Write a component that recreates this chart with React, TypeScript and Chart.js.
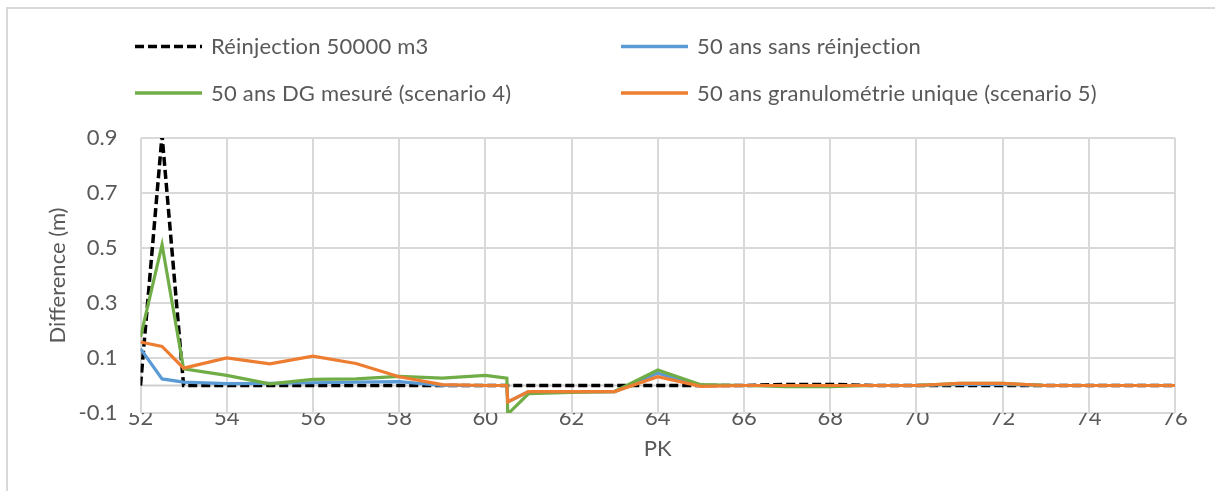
import React, { useEffect, useRef } from 'react';
import { Chart, registerables } from 'chart.js';

Chart.register(...registerables);

// ---- Data ----
const pk = [52, 52.5, 53, 54, 55, 56, 57, 58, 59, 60, 60.5, 60.52, 61, 62, 63, 64, 65, 66, 67, 68, 69, 70, 71, 72, 73, 74, 75, 76];
const reinjection = [0, 0.91, 0, 0, 0, 0, 0, 0, 0, 0, 0, 0, 0, 0, 0, 0, 0, 0, 0.004, 0.004, 0, 0, 0, 0, 0, 0, 0, 0];
const sansReinjection = [0.134, 0.024, 0.012, 0.007, 0.008, 0.01, 0.012, 0.014, 0, 0, 0, -0.06, -0.022, -0.022, -0.022, 0.045, 0, 0, 0, 0, 0, 0, 0.004, 0.004, 0, 0, 0, 0];
const dgMesure = [0.176, 0.512, 0.061, 0.037, 0.006, 0.022, 0.024, 0.033, 0.027, 0.037, 0.027, -0.104, -0.03, -0.025, -0.022, 0.056, 0.003, 0, -0.004, -0.004, 0, 0, 0.008, 0.008, 0, 0, 0, 0];
const granuloUnique = [0.158, 0.142, 0.063, 0.1, 0.079, 0.107, 0.08, 0.032, 0.003, 0, 0, -0.06, -0.022, -0.022, -0.022, 0.032, -0.003, 0, 0, 0, 0, 0, 0.008, 0.008, 0, 0, 0, 0];

const seriesLabels = [
  'Réinjection 50000 m3',
  '50 ans sans réinjection',
  '50 ans DG mesuré (scenario 4)',
  '50 ans granulométrie unique (scenario 5)',
];
const seriesColors = ['#000000', '#5B9BD5', '#70AD47', '#ED7D31'];

const xTicks = [52, 54, 56, 58, 60, 62, 64, 66, 68, 70, 72, 74, 76];
const yTicks = [-0.1, 0.1, 0.3, 0.5, 0.7, 0.9];

const FONT = 'Lato';
const FS = 22;
const TEXT = '#595959';
const GRID = '#d9d9d9';

const toPoints = (ys: number[]) => pk.map((x, i) => ({ x, y: ys[i] }));

const framePlugin = {
  id: 'frame',
  beforeDraw(chart: any) {
    const { ctx, width, height } = chart;
    ctx.save();
    ctx.strokeStyle = GRID;
    ctx.lineWidth = 2;
    ctx.beginPath();
    ctx.moveTo(7, height);
    ctx.lineTo(7, 8);
    ctx.lineTo(width, 8);
    ctx.stroke();
    ctx.restore();
  },
  beforeDatasetsDraw(chart: any) {
    const { ctx, chartArea, scales } = chart;
    const y0 = scales.y.getPixelForValue(0);
    ctx.save();
    ctx.strokeStyle = '#cfcfcf';
    ctx.lineWidth = 2;
    ctx.beginPath();
    ctx.moveTo(chartArea.left, y0);
    ctx.lineTo(chartArea.right, y0);
    ctx.stroke();
    ctx.restore();
  },
};

const legendPlugin = {
  id: 'gridLegend',
  afterDraw(chart: any) {
    const { ctx } = chart;
    const cols = [135, 621];
    const rows = [46.5, 93];
    chart.data.datasets.forEach((ds: any, i: number) => {
      const x = cols[i % 2];
      const y = rows[Math.floor(i / 2)];
      ctx.save();
      ctx.strokeStyle = ds.borderColor;
      ctx.lineWidth = 3.5;
      ctx.setLineDash(ds.borderDash || []);
      ctx.beginPath();
      ctx.moveTo(x, y);
      ctx.lineTo(x + 67, y);
      ctx.stroke();
      ctx.setLineDash([]);
      ctx.fillStyle = TEXT;
      ctx.font = `${FS}px ${FONT}`;
      ctx.textBaseline = 'alphabetic';
      ctx.textAlign = 'left';
      if ('letterSpacing' in ctx) (ctx as any).letterSpacing = '0.2px';
      ctx.fillText(ds.label, x + 76, y + 7.5);
      ctx.restore();
    });
  },
};

export default function App() {
  const ref = useRef<HTMLCanvasElement>(null);

  useEffect(() => {
    const values = [reinjection, sansReinjection, dgMesure, granuloUnique];
    const chart = new Chart(ref.current as HTMLCanvasElement, {
      type: 'line',
      data: {
        datasets: values.map((v, i) => ({
          label: seriesLabels[i],
          data: toPoints(v),
          borderColor: seriesColors[i],
          backgroundColor: seriesColors[i],
          borderWidth: i === 0 ? 3.5 : 3.2,
          borderDash: i === 0 ? [9, 4] : [],
          pointRadius: 0,
          tension: 0,
          fill: false,
          order: 4 - i,
        })),
      },
      options: {
        animation: false,
        responsive: true,
        maintainAspectRatio: false,
        layout: { padding: { top: 138, right: 40, bottom: 0, left: 0 } },
        plugins: {
          legend: { display: false },
          tooltip: { enabled: false },
        },
        scales: {
          x: {
            type: 'linear',
            min: 52,
            max: 76,
            afterBuildTicks: (scale: any) => {
              scale.ticks = xTicks.map((v) => ({ value: v }));
            },
            afterFit: (scale: any) => {
              scale.height = 78;
            },
            grid: { color: GRID, lineWidth: 2, drawTicks: false },
            border: { display: false },
            ticks: {
              padding: -8,
              color: TEXT,
              font: { family: FONT, size: FS },
              maxRotation: 0,
              callback: (v: any) => String(v),
            },
            title: {
              display: true,
              text: 'PK',
              color: TEXT,
              font: { family: FONT, size: FS },
              padding: { top: 0, bottom: 29 },
            },
          },
          y: {
            type: 'linear',
            min: -0.1,
            max: 0.9,
            afterBuildTicks: (scale: any) => {
              scale.ticks = yTicks.map((v) => ({ value: v }));
            },
            afterFit: (scale: any) => {
              scale.width = 140.5;
            },
            grid: { color: GRID, lineWidth: 2, drawTicks: false },
            border: { display: false },
            ticks: {
              padding: 23,
              color: TEXT,
              font: { family: FONT, size: FS },
              callback: (v: any) => Number(v).toFixed(1),
            },
            title: {
              display: true,
              text: 'Difference (m)',
              color: TEXT,
              font: { family: FONT, size: FS },
              padding: { top: 45, bottom: 0 },
            },
          },
        },
      },
      plugins: [framePlugin, legendPlugin],
    });
    return () => chart.destroy();
  }, []);

  return (
    <div style={{ position: 'fixed', left: 0, top: 0, width: 1215, height: 491, background: '#ffffff' }}>
      <canvas ref={ref} />
    </div>
  );
}
